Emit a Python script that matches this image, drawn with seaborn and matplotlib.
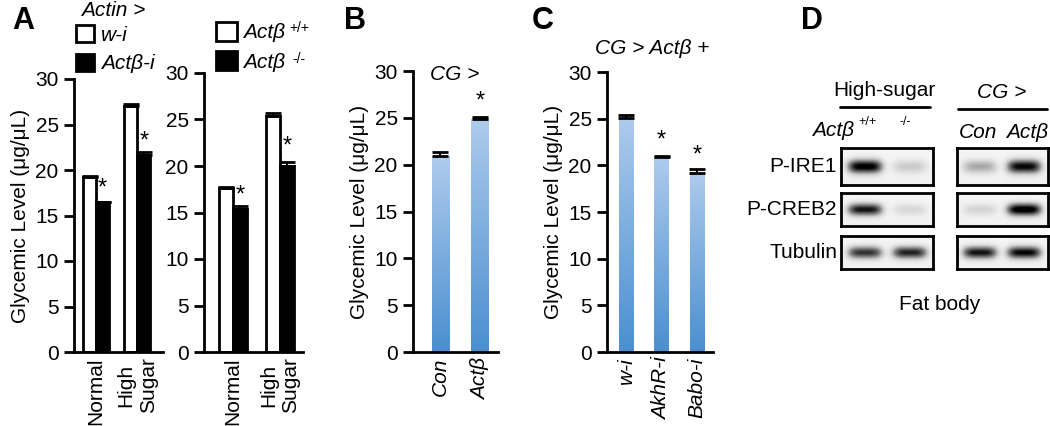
import numpy as np
import pandas as pd
import matplotlib
matplotlib.use('Agg')
import matplotlib.pyplot as plt
import seaborn as sns
from matplotlib.colors import LinearSegmentedColormap
from matplotlib.lines import Line2D
from matplotlib.patches import Patch

# ---- data ----
a_cond = ['Normal', 'High\nSugar']
a1_wi = [19.2, 27.0]
a1_wi_err = [0.1, 0.3]
a1_act = [16.5, 21.6]
a1_act_err = [0.0, 0.4]
a2_wt = [17.6, 25.4]
a2_wt_err = [0.15, 0.3]
a2_ko = [15.4, 20.0]
a2_ko_err = [0.3, 0.4]

b_cond = ['Con', 'Actβ']
b_val = [20.9, 24.9]
b_err = [0.45, 0.2]

c_cond = ['w-i', 'AkhR-i', 'Babo-i']
c_val = [25.1, 20.9, 19.2]
c_err = [0.3, 0.15, 0.4]

# western blot band darkness (0 = none, 1 = black), two lanes each
blot_rows = ['P-IRE1', 'P-CREB2', 'Tubulin']
blot_left = [[0.95, 0.22], [0.85, 0.16], [0.75, 0.80]]
blot_right = [[0.35, 0.90], [0.18, 1.00], [0.85, 0.90]]

sns.set_style('ticks')
plt.rcParams['font.family'] = ['Liberation Sans', 'DejaVu Sans']
for k in ['text.color', 'axes.labelcolor', 'xtick.color', 'ytick.color', 'axes.edgecolor']:
    plt.rcParams[k] = 'black'

W, H = 1050, 426
fig = plt.figure(figsize=(W / 100, H / 100), dpi=100)


def fx(px):
    return px / W


def fy(py):
    return 1 - py / H


def make_axes(left, right, top, bottom=352):
    return fig.add_axes([fx(left), fy(bottom), fx(right - left), (bottom - top) / H])


def style_axes(ax, xlim, ylabel=True):
    ax.set_ylim(0, 30)
    ax.set_xlim(*xlim)
    ax.set_yticks(range(0, 31, 5))
    sns.despine(ax=ax)
    for s in ['left', 'bottom']:
        ax.spines[s].set_linewidth(2)
    ax.tick_params(axis='y', length=7, width=2, labelsize=15, pad=4)
    ax.tick_params(axis='x', length=0, labelsize=15, rotation=90, pad=4)
    ax.set_xlabel('')
    if ylabel:
        ax.set_ylabel('Glycemic Level (μg/μL)', fontsize=15, labelpad=4)
    else:
        ax.set_ylabel('')


def add_errors(ax, errs):
    for p, e in zip(ax.patches, errs):
        x = p.get_x() + p.get_width() / 2
        ax.errorbar(x, p.get_height(), yerr=[[0], [e]], color='black',
                    capsize=5.5, elinewidth=1.5, capthick=2, zorder=5)


def add_star(ax, x, top):
    ax.text(x, top + 0.35, '*', ha='center', va='baseline', fontsize=17)


def paired_panel(ax, vals1, errs1, vals2, errs2, width, xlim, stars):
    df = pd.DataFrame({'cond': a_cond * 2, 'val': vals1 + vals2,
                       'geno': ['g1'] * 2 + ['g2'] * 2})
    sns.barplot(data=df, x='cond', y='val', hue='geno', palette=['white', 'black'],
                edgecolor='black', linewidth=2, width=width, legend=False,
                errorbar=None, ax=ax)
    add_errors(ax, errs1 + errs2)
    style_axes(ax, xlim, ylabel=stars[0])
    for i in range(2):
        p = ax.patches[2 + i]
        add_star(ax, p.get_x() + p.get_width() / 2, vals2[i] + errs2[i] + stars[1][i])


# ---- panel A ----
axA1 = make_axes(74, 163, 79)
paired_panel(axA1, a1_wi, a1_wi_err, a1_act, a1_act_err, 0.64, (-0.54, 1.63),
             (True, [0.5, 0.1]))
axA2 = make_axes(204, 303, 73)
paired_panel(axA2, a2_wt, a2_wt_err, a2_ko, a2_ko_err, 0.6, (-0.62, 1.49),
             (False, [0.1, 0.7]))

fig.text(fx(81), fy(11), 'Actin >', fontsize=15, style='italic', va='center')
axA1.legend(handles=[Patch(facecolor='white', edgecolor='black', lw=2, label='w-i'),
                     Patch(facecolor='black', edgecolor='black', lw=2, label='Actβ-i')],
            loc='upper left', bbox_to_anchor=(fx(76), fy(25)), bbox_transform=fig.transFigure,
            frameon=False, prop={'size': 15, 'style': 'italic'}, handlelength=0.85,
            handleheight=0.85, handletextpad=0.35, labelspacing=0.45, borderpad=0,
            borderaxespad=0)
axA2.legend(handles=[Patch(facecolor='white', edgecolor='black', lw=2, label='Actβ'),
                     Patch(facecolor='black', edgecolor='black', lw=2, label='Actβ')],
            loc='upper left', bbox_to_anchor=(fx(216), fy(22)), bbox_transform=fig.transFigure,
            frameon=False, prop={'size': 15, 'style': 'italic'}, handlelength=1.0,
            handleheight=1.0, handletextpad=0.3, labelspacing=0.42, borderpad=0,
            borderaxespad=0)
fig.text(fx(299), fy(28), '+/+', fontsize=10, ha='center', va='center')
fig.text(fx(299), fy(59), '-/-', fontsize=10, ha='center', va='center')

# ---- gradient bars (B, C) ----
grad = LinearSegmentedColormap.from_list('grad', ['#4a8fd0', '#aecbed'])


def gradient_panel(ax, cats, vals, errs, width, xlim):
    df = pd.DataFrame({'cond': cats, 'val': vals})
    sns.barplot(data=df, x='cond', y='val', color='#7fb0e0', width=width,
                errorbar=None, ax=ax)
    ramp = np.linspace(0, 1, 256).reshape(-1, 1)
    for p in ax.patches:
        x0, h = p.get_x(), p.get_height()
        im = ax.imshow(ramp, cmap=grad, aspect='auto', origin='lower',
                       extent=[x0, x0 + p.get_width(), 0, h], zorder=2)
        im.set_clip_path(p)
        p.set_facecolor('none')
        p.set_edgecolor('none')
    add_errors(ax, errs)
    style_axes(ax, xlim)
    for t in ax.get_xticklabels():
        t.set_style('italic')


axB = make_axes(413, 498, 71)
gradient_panel(axB, b_cond, b_val, b_err, 0.43, (-0.68, 1.45))
add_star(axB, 1, b_val[1] + b_err[1] + 0.6)
axB.text(-0.26, 29.6, 'CG >', fontsize=15, style='italic', va='center', ha='left')

axC = make_axes(607, 713, 72)
gradient_panel(axC, c_cond, c_val, c_err, 0.42, (-0.54, 2.45))
add_star(axC, 1, c_val[1] + c_err[1] + 0.6)
add_star(axC, 2, c_val[2] + c_err[2] + 0.5)
fig.text(fx(652), fy(48), 'CG > Actβ +', fontsize=15, style='italic', ha='center', va='center')

# ---- panel letters ----
for lbl, px in [('A', 23), ('B', 355), ('C', 543), ('D', 812)]:
    fig.text(fx(px), fy(21), lbl, fontsize=22, fontweight='bold', ha='center', va='center')

# ---- panel D: western blots ----


def blot_image(levels, centers, h=40, w=120):
    yy, xx = np.mgrid[0:1:h * 1j, 0:1:w * 1j]
    img = 0.08 + 0.03 * yy
    for lvl, c in zip(levels, centers):
        img = img + lvl * np.exp(-((xx - c) / 0.19) ** 4) * np.exp(-((yy - 0.5) / 0.19) ** 2)
    return np.clip(img, 0, 1)


row_tops = [148, 193, 236]
row_heights = [37, 33, 33]
for i, name in enumerate(blot_rows):
    for (left, right, lev, cen) in [(841, 933, blot_left[i], [0.26, 0.75]),
                                    (957, 1048, blot_right[i], [0.25, 0.74])]:
        axb = fig.add_axes([fx(left), fy(row_tops[i] + row_heights[i]), fx(right - left),
                            row_heights[i] / H])
        axb.imshow(blot_image(lev, cen), cmap='Greys', vmin=0, vmax=1, aspect='auto',
                   interpolation='bilinear')
        axb.set_xticks([])
        axb.set_yticks([])
        for s in axb.spines.values():
            s.set_visible(True)
            s.set_linewidth(2)
            s.set_color('black')
    fig.text(fx(837), fy(row_tops[i] + row_heights[i] / 2), name, fontsize=15,
             ha='right', va='center')

fig.text(fx(884), fy(90), 'High-sugar', fontsize=15, ha='center', va='center')
fig.add_artist(Line2D([fx(840), fx(930)], [fy(107), fy(107)], color='black', lw=2))
fig.text(fx(812), fy(131), 'Actβ', fontsize=15, style='italic', ha='left', va='center')
fig.text(fx(867), fy(122), '+/+', fontsize=9, ha='center', va='center')
fig.text(fx(905), fy(122), '-/-', fontsize=9, ha='center', va='center')

fig.text(fx(1002), fy(93), 'CG >', fontsize=15, style='italic', ha='center', va='center')
fig.add_artist(Line2D([fx(958), fx(1047)], [fy(109), fy(109)], color='black', lw=2))
fig.text(fx(978), fy(132), 'Con', fontsize=15, style='italic', ha='center', va='center')
fig.text(fx(1027), fy(132), 'Actβ', fontsize=15, style='italic', ha='center', va='center')

fig.text(fx(940), fy(305), 'Fat body', fontsize=15, ha='center', va='center')

fig.savefig('out.png', dpi=100)
